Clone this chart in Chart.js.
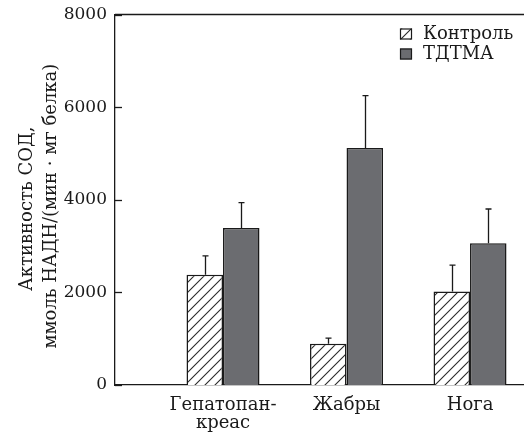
<!DOCTYPE html>
<html lang="ru">
<head>
<meta charset="utf-8">
<title>Активность СОД</title>
<script src="https://cdn.jsdelivr.net/npm/chart.js@4.4.1/dist/chart.umd.min.js"></script>
<style>
  html, body { margin: 0; padding: 0; background: #fff; }
  #wrap { width: 524px; height: 439px; }
</style>
</head>
<body>
<div id="wrap"><canvas id="grafico" width="524" height="439"></canvas></div>
<script>
// --- ДАННЫЕ ---
const categorias = [['Гепатопан-', 'креас'], 'Жабры', 'Нога'];
const posiciones = [1, 2, 3];
const serieNombres = ['Контроль', 'ТДТМА'];
const control = [2380, 890, 2020];
const controlError = [410, 120, 570];
const tdtma = [3390, 5120, 3060];
const tdtmaError = [550, 1130, 740];
const ticksY = [0, 2000, 4000, 6000, 8000];

const FUENTE = 'DejaVu Serif';
const TINTA = '#1a1a1a';
const GRIS = '#6b6c70';

// штриховка для контроля
function crearRayado() {
  const c = document.createElement('canvas');
  c.width = 10; c.height = 10;
  const g = c.getContext('2d');
  g.fillStyle = '#fff';
  g.fillRect(0, 0, 10, 10);
  g.strokeStyle = '#2a2a2a';
  g.lineWidth = 1.1;
  g.beginPath();
  g.moveTo(-1, 11); g.lineTo(11, -1);
  g.moveTo(-1, 1); g.lineTo(1, -1);
  g.moveTo(9, 11); g.lineTo(11, 9);
  g.stroke();
  return g.createPattern(c, 'repeat');
}
const rayado = crearRayado();

// засечки, верхняя линия, погрешности и легенда
const decor = {
  id: 'decor',
  afterDatasetsDraw(chart) {
    const { ctx, chartArea: a, scales: { y } } = chart;
    ctx.save();
    ctx.strokeStyle = TINTA;
    ctx.lineWidth = 1.3;

    ctx.beginPath();
    ctx.moveTo(a.left, a.top);
    ctx.lineTo(a.right, a.top);
    ctx.stroke();

    y.ticks.forEach(t => {
      const py = Math.round(y.getPixelForValue(t.value)) + 0.5;
      ctx.beginPath();
      ctx.moveTo(a.left, py);
      ctx.lineTo(a.left + 7, py);
      ctx.stroke();
    });

    chart.data.datasets.forEach((ds, i) => {
      const meta = chart.getDatasetMeta(i);
      meta.data.forEach((bar, j) => {
        const arriba = y.getPixelForValue(ds.data[j].y + ds.errores[j]);
        const x = Math.round(bar.x) + 0.5;
        ctx.beginPath();
        ctx.moveTo(x, bar.y);
        ctx.lineTo(x, arriba);
        ctx.moveTo(x - 3, arriba);
        ctx.lineTo(x + 3, arriba);
        ctx.stroke();
      });
    });

    // легенда
    ctx.font = '18px "' + FUENTE + '"';
    ctx.textBaseline = 'middle';
    ctx.textAlign = 'left';
    chart.data.datasets.forEach((ds, i) => {
      const bx = a.right - 124;
      const by = a.top + 14 + i * 20;
      ctx.fillStyle = ds.backgroundColor;
      ctx.fillRect(bx, by, 12, 11);
      ctx.lineWidth = 1.2;
      ctx.strokeRect(bx + 0.5, by + 0.5, 11, 10);
      ctx.fillStyle = TINTA;
      ctx.fillText(ds.label, bx + 23, by + 6);
    });
    ctx.restore();
  }
};

const ctx = document.getElementById('grafico').getContext('2d');
const grafico = new Chart(ctx, {
  type: 'bar',
  data: {
    datasets: [
      {
        label: serieNombres[0],
        data: posiciones.map((p, i) => ({ x: p, y: control[i] })),
        errores: controlError,
        backgroundColor: rayado,
        borderColor: TINTA,
        borderWidth: 1.5
      },
      {
        label: serieNombres[1],
        data: posiciones.map((p, i) => ({ x: p, y: tdtma[i] })),
        errores: tdtmaError,
        backgroundColor: GRIS,
        borderColor: TINTA,
        borderWidth: 1.5
      }
    ]
  },
  options: {
    responsive: false,
    animation: false,
    categoryPercentage: 0.591,
    barPercentage: 1,
    layout: { padding: { left: 0, right: 0, top: 14.5, bottom: 0 } },
    plugins: { legend: { display: false }, tooltip: { enabled: false } },
    scales: {
      x: {
        type: 'linear',
        offset: false,
        bounds: 'data',
        min: 0.1255,
        max: 3.437,
        afterBuildTicks: (s) => { s.ticks = posiciones.map(v => ({ value: v })); },
        afterFit: (s) => { s.height = 54; },
        grid: { display: false, drawTicks: false, offset: false },
        border: { display: true, color: TINTA, width: 1.3 },
        ticks: {
          padding: 11,
          color: TINTA,
          font: { family: FUENTE, size: 18, lineHeight: 1.0 },
          callback: (v) => categorias[posiciones.indexOf(v)]
        }
      },
      y: {
        min: 0,
        max: 8000,
        afterBuildTicks: (s) => { s.ticks = ticksY.map(v => ({ value: v })); },
        afterFit: (s) => { s.width = 115; s.paddingTop = 0; s.paddingBottom = 0; },
        grid: { display: false, drawTicks: false },
        border: { display: true, color: TINTA, width: 1.3 },
        ticks: {
          padding: 8,
          color: TINTA,
          font: { family: FUENTE, size: 17 },
          callback: (v) => String(v)
        },
        title: {
          display: true,
          text: ['Активность СОД,\u2002\u2002', 'ммоль НАДН/(мин · мг белка)\u2002\u2009'],
          color: TINTA,
          font: { family: FUENTE, size: 18, lineHeight: 1.35 },
          padding: { top: 15, bottom: 0 }
        }
      }
    }
  },
  plugins: [decor]
});
</script>
</body>
</html>
